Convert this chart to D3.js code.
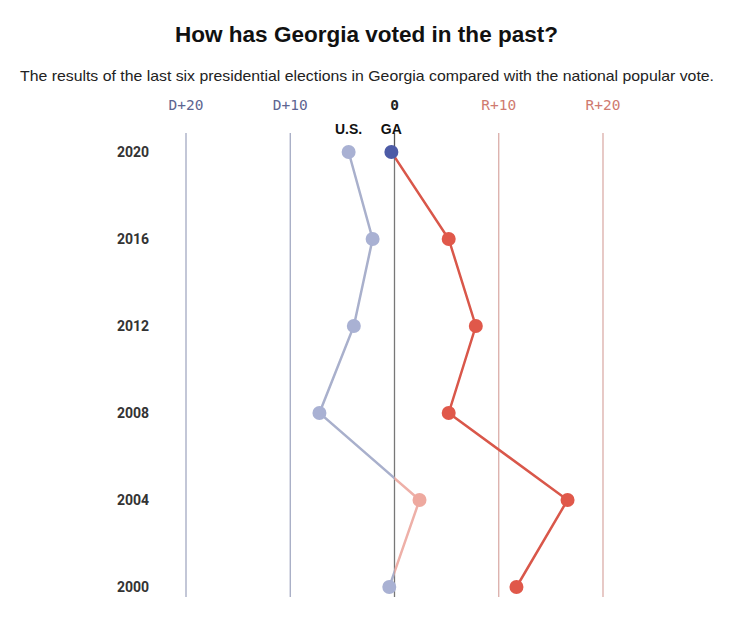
<!DOCTYPE html>
<html><head><meta charset="utf-8">
<script src="https://cdn.jsdelivr.net/npm/d3@7"></script>
<style>body{margin:0;background:#fff;}</style>
</head><body>
<svg id="c" width="740" height="636"></svg>
<script>
const years = [2020, 2016, 2012, 2008, 2004, 2000];
// margin: negative = Democratic, positive = Republican
const usMargin = [-4.4, -2.1, -3.9, -7.2, 2.4, -0.5];
const gaMargin = [-0.3, 5.2, 7.8, 5.2, 16.6, 11.7];
const tickValues = [-20, -10, 0, 10, 20];
const tickLabels = ["D+20", "D+10", "0", "R+10", "R+20"];

const svg = d3.select("#c");
const x = d3.scaleLinear().domain([-20, 20]).range([186, 603]);
const y = d3.scalePoint().domain(years).range([152, 587]);
const gridTop = 133, gridBottom = 597;

svg.append("text").attr("x", 366.5).attr("y", 42).attr("text-anchor", "middle")
  .attr("font-family", "Liberation Sans, Arial").attr("font-weight", "bold").attr("font-size", 21.5)
  .attr("fill", "#111").attr("textLength", 383).attr("lengthAdjust", "spacingAndGlyphs")
  .text("How has Georgia voted in the past?");
svg.append("text").attr("x", 367).attr("y", 81).attr("text-anchor", "middle")
  .attr("font-family", "Liberation Sans, Arial").attr("font-size", 14.5)
  .attr("fill", "#222").attr("textLength", 694).attr("lengthAdjust", "spacingAndGlyphs")
  .text("The results of the last six presidential elections in Georgia compared with the national popular vote.");

// grid
tickValues.forEach((v, i) => {
  const col = v < 0 ? "#9ba2bd" : v > 0 ? "#d8a6a1" : "#777";
  svg.append("line").attr("x1", x(v)).attr("x2", x(v)).attr("y1", v === 0 ? 148 : gridTop).attr("y2", gridBottom)
    .attr("stroke", col).attr("stroke-width", v === 0 ? 1.3 : 1.2);
  svg.append("text").attr("x", x(v)).attr("y", 110).attr("text-anchor", "middle")
    .attr("font-family", "DejaVu Sans Mono").attr("font-size", 14.5).attr("font-weight", v === 0 ? "bold" : "normal")
    .attr("fill", v < 0 ? "#5d6591" : v > 0 ? "#cf7a70" : "#222")
    .text(tickLabels[i]);
});
svg.append("line").attr("x1", x(0)).attr("x2", x(0)).attr("y1", 133).attr("y2", 152).attr("stroke", "#555").attr("stroke-width", 1.3);

// year labels
years.forEach(yr => {
  svg.append("text").attr("x", 133).attr("y", y(yr) + 5).attr("text-anchor", "middle")
    .attr("font-family", "Roboto").attr("font-weight", "bold").attr("font-size", 14)
    .attr("fill", "#333").text(yr);
});

// clip paths
const defs = svg.append("defs");
defs.append("clipPath").attr("id", "cl").append("rect").attr("x", 0).attr("y", 0).attr("width", x(0)).attr("height", 636);
defs.append("clipPath").attr("id", "cr").append("rect").attr("x", x(0)).attr("y", 0).attr("width", 740 - x(0)).attr("height", 636);

const line = d3.line().x(d => x(d[1])).y(d => y(d[0]));
function drawSeries(vals, dCol, rCol, w) {
  const data = years.map((yr, i) => [yr, vals[i]]);
  svg.append("path").datum(data).attr("d", line).attr("fill", "none").attr("stroke", dCol)
    .attr("stroke-width", w).attr("clip-path", "url(#cl)");
  svg.append("path").datum(data).attr("d", line).attr("fill", "none").attr("stroke", rCol)
    .attr("stroke-width", w).attr("clip-path", "url(#cr)");
}
drawSeries(usMargin, "#a9b0cc", "#eeb0a8", 2.5);
drawSeries(gaMargin, "#5565a8", "#d9574a", 2.5);

years.forEach((yr, i) => {
  svg.append("circle").attr("cx", x(usMargin[i])).attr("cy", y(yr)).attr("r", 7)
    .attr("fill", usMargin[i] < 0 ? "#a9b1d3" : "#eea99f");
  svg.append("circle").attr("cx", x(gaMargin[i])).attr("cy", y(yr)).attr("r", 7)
    .attr("fill", gaMargin[i] < 0 ? "#4d5ba6" : "#e0584a");
});

svg.append("text").attr("x", x(usMargin[0])).attr("y", 134).attr("text-anchor", "middle")
  .attr("font-family", "Liberation Sans, Arial").attr("font-weight", "bold").attr("font-size", 14)
  .attr("fill", "#111").text("U.S.");
svg.append("text").attr("x", x(gaMargin[0])).attr("y", 134).attr("text-anchor", "middle")
  .attr("font-family", "Liberation Sans, Arial").attr("font-weight", "bold").attr("font-size", 14)
  .attr("fill", "#111").text("GA");
</script>
</body></html>
